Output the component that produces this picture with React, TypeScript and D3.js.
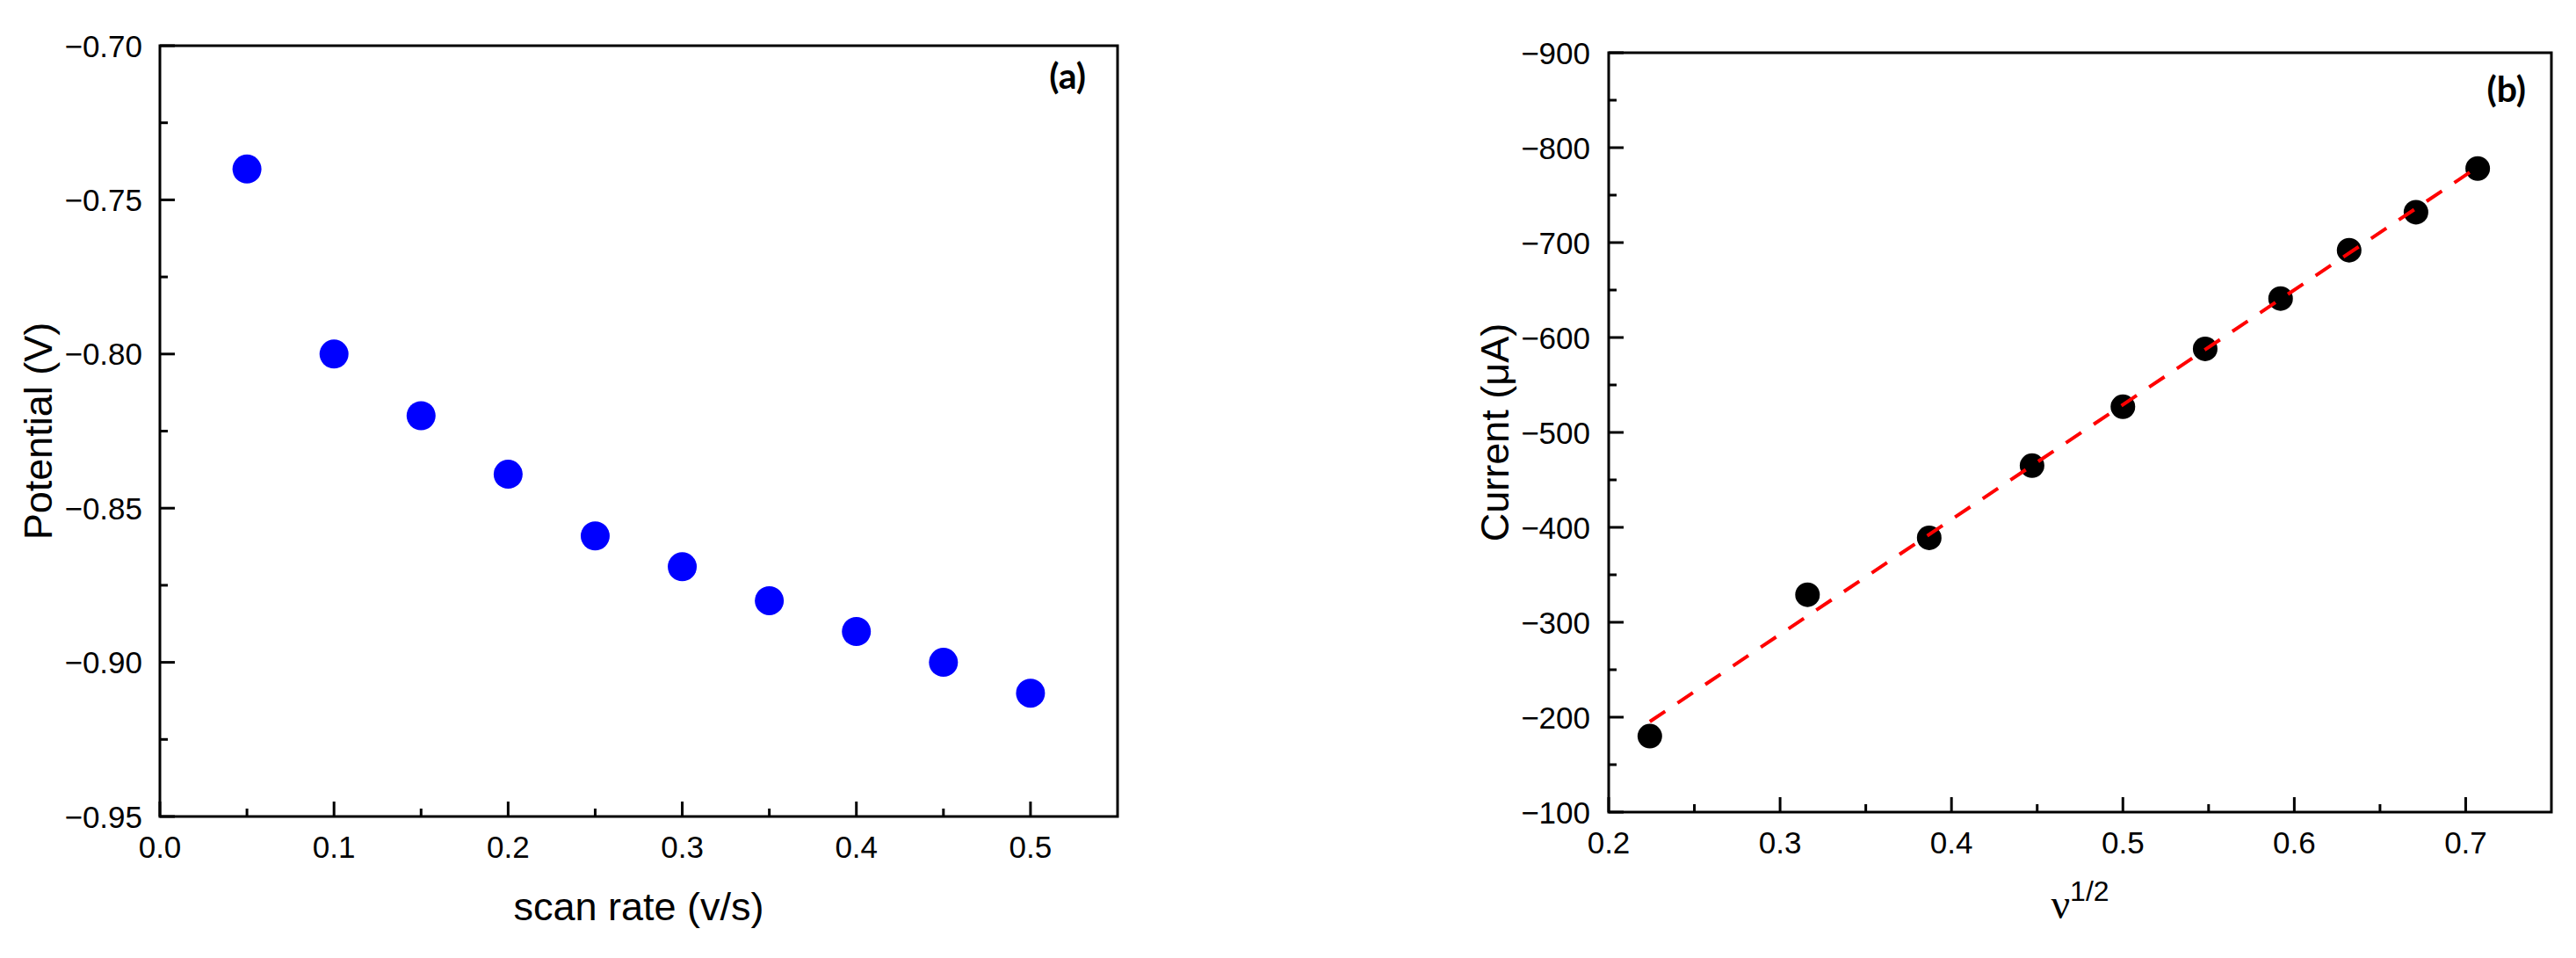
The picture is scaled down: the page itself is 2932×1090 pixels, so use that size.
import React from "react";
import * as d3 from "d3";

// ---------- data ----------
const scanRates = [0.05, 0.1, 0.15, 0.2, 0.25, 0.3, 0.35, 0.4, 0.45, 0.5];
const potentials = [-0.74, -0.8, -0.82, -0.839, -0.859, -0.869, -0.88, -0.89, -0.9, -0.91];

const sqrtRates = [0.224, 0.316, 0.387, 0.447, 0.5, 0.548, 0.592, 0.632, 0.671, 0.707];
const currents = [-180, -329, -389, -465, -527, -588, -641, -692, -732, -778];

const leftXTicks = [0, 0.1, 0.2, 0.3, 0.4, 0.5];
const leftXMinor = [0.05, 0.15, 0.25, 0.35, 0.45];
const leftYTicks = [-0.7, -0.75, -0.8, -0.85, -0.9, -0.95];
const leftYMinor = [-0.725, -0.775, -0.825, -0.875, -0.925];

const rightXTicks = [0.2, 0.3, 0.4, 0.5, 0.6, 0.7];
const rightXMinor = [0.25, 0.35, 0.45, 0.55, 0.65];
const rightYTicks = [-900, -800, -700, -600, -500, -400, -300, -200, -100];
const rightYMinor = [-850, -750, -650, -550, -450, -350, -250, -150];

const W = 2932;
const H = 1090;
const SANS = "'Liberation Sans', Arial, sans-serif";
const MAJ = 17;
const MIN = 9;
const SW = 3;

function fmtNeg(s: string) {
  return s.replace("-", "\u2212");
}

function Panel(props: {
  x: d3.ScaleLinear<number, number>;
  y: d3.ScaleLinear<number, number>;
  xTicks: number[];
  xMinor: number[];
  yTicks: number[];
  yMinor: number[];
  xFmt: (v: number) => string;
  yFmt: (v: number) => string;
  labelGap: number;
}) {
  const { x, y, xTicks, xMinor, yTicks, yMinor, xFmt, yFmt, labelGap } = props;
  const [x0, x1] = x.range();
  const [y0, y1] = y.range(); // y0 bottom, y1 top
  return (
    <g>
      <rect x={x0} y={y1} width={x1 - x0} height={y0 - y1} fill="none" stroke="#000" strokeWidth={SW} />
      {xTicks.map((t) => (
        <g key={"xt" + t}>
          <line x1={x(t)} x2={x(t)} y1={y0} y2={y0 - MAJ} stroke="#000" strokeWidth={SW} />
          <text x={x(t)} y={y0 + 47} fontFamily={SANS} fontSize={35} textAnchor="middle" fill="#000">
            {xFmt(t)}
          </text>
        </g>
      ))}
      {xMinor.map((t) => (
        <line key={"xm" + t} x1={x(t)} x2={x(t)} y1={y0} y2={y0 - MIN} stroke="#000" strokeWidth={SW} />
      ))}
      {yTicks.map((t) => (
        <g key={"yt" + t}>
          <line x1={x0} x2={x0 + MAJ} y1={y(t)} y2={y(t)} stroke="#000" strokeWidth={SW} />
          <text
            x={x0 - labelGap}
            y={y(t)}
            dy="0.36em"
            fontFamily={SANS}
            fontSize={35}
            textAnchor="end"
            fill="#000"
          >
            {yFmt(t)}
          </text>
        </g>
      ))}
      {yMinor.map((t) => (
        <line key={"ym" + t} x1={x0} x2={x0 + MIN} y1={y(t)} y2={y(t)} stroke="#000" strokeWidth={SW} />
      ))}
    </g>
  );
}

export default function App() {
  // left panel
  const xL = d3.scaleLinear().domain([0, 0.55]).range([182, 1272]);
  const yL = d3.scaleLinear().domain([-0.95, -0.7]).range([929, 52]);
  // right panel
  const xR = d3.scaleLinear().domain([0.2, 0.75]).range([1831, 2904]);
  const yR = d3.scaleLinear().domain([-100, -900]).range([924, 60]);

  // linear fit of the right series
  const mx = d3.mean(sqrtRates) as number;
  const my = d3.mean(currents) as number;
  let sxy = 0;
  let sxx = 0;
  sqrtRates.forEach((v, i) => {
    sxy += (v - mx) * (currents[i] - my);
    sxx += (v - mx) * (v - mx);
  });
  const slope = sxy / sxx;
  const intercept = my - slope * mx;
  const fitX = [sqrtRates[0], sqrtRates[sqrtRates.length - 1]];
  const fitLine = d3
    .line<number>()
    .x((d) => xR(d))
    .y((d) => yR(intercept + slope * d))(fitX);

  return (
    <svg
      width={W}
      height={H}
      viewBox={`0 0 ${W} ${H}`}
      style={{ position: "absolute", left: 0, top: 0, background: "#fff" }}
    >
      <rect x={0} y={0} width={W} height={H} fill="#fff" />

      {/* ---- left panel ---- */}
      <Panel
        x={xL}
        y={yL}
        xTicks={leftXTicks}
        xMinor={leftXMinor}
        yTicks={leftYTicks}
        yMinor={leftYMinor}
        xFmt={(v) => v.toFixed(1)}
        yFmt={(v) => fmtNeg(v.toFixed(2))}
        labelGap={20}
      />
      {scanRates.map((s, i) => (
        <circle key={"l" + i} cx={xL(s)} cy={yL(potentials[i])} r={16.5} fill="#0000ff" />
      ))}
      <text
        transform={`translate(59, ${(yL.range()[0] + yL.range()[1]) / 2}) rotate(-90)`}
        fontFamily={SANS}
        fontSize={45}
        textAnchor="middle"
        fill="#000"
      >
        Potential (V)
      </text>
      <text x={(xL.range()[0] + xL.range()[1]) / 2} y={1047} fontFamily={SANS} fontSize={45} textAnchor="middle" fill="#000">
        scan rate (v/s)
      </text>
      <text x={1236} y={101} fontFamily="Lato, 'Open Sans', sans-serif" fontWeight={700} fontSize={41} textAnchor="end" fill="#000">
        (a)
      </text>

      {/* ---- right panel ---- */}
      <Panel
        x={xR}
        y={yR}
        xTicks={rightXTicks}
        xMinor={rightXMinor}
        yTicks={rightYTicks}
        yMinor={rightYMinor}
        xFmt={(v) => v.toFixed(1)}
        yFmt={(v) => fmtNeg(String(v))}
        labelGap={21}
      />
      {sqrtRates.map((s, i) => (
        <circle key={"r" + i} cx={xR(s)} cy={yR(currents[i])} r={14} fill="#000" />
      ))}
      <path d={fitLine || ""} fill="none" stroke="#ff0000" strokeWidth={4} strokeDasharray="21 17" />
      <text
        transform={`translate(1717, ${(yR.range()[0] + yR.range()[1]) / 2}) rotate(-90)`}
        fontFamily={SANS}
        fontSize={45}
        textAnchor="middle"
        fill="#000"
      >
        Current (μA)
      </text>
      <text x={(xR.range()[0] + xR.range()[1]) / 2} y={1045} textAnchor="middle" fill="#000">
        <tspan fontFamily="'Liberation Serif', 'Times New Roman', serif" fontSize={48}>
          ν
        </tspan>
        <tspan fontFamily={SANS} fontSize={32} dy={-20}>
          1/2
        </tspan>
      </text>
      <text x={2875} y={116} fontFamily="Lato, 'Open Sans', sans-serif" fontWeight={700} fontSize={41} textAnchor="end" fill="#000">
        (b)
      </text>
    </svg>
  );
}
